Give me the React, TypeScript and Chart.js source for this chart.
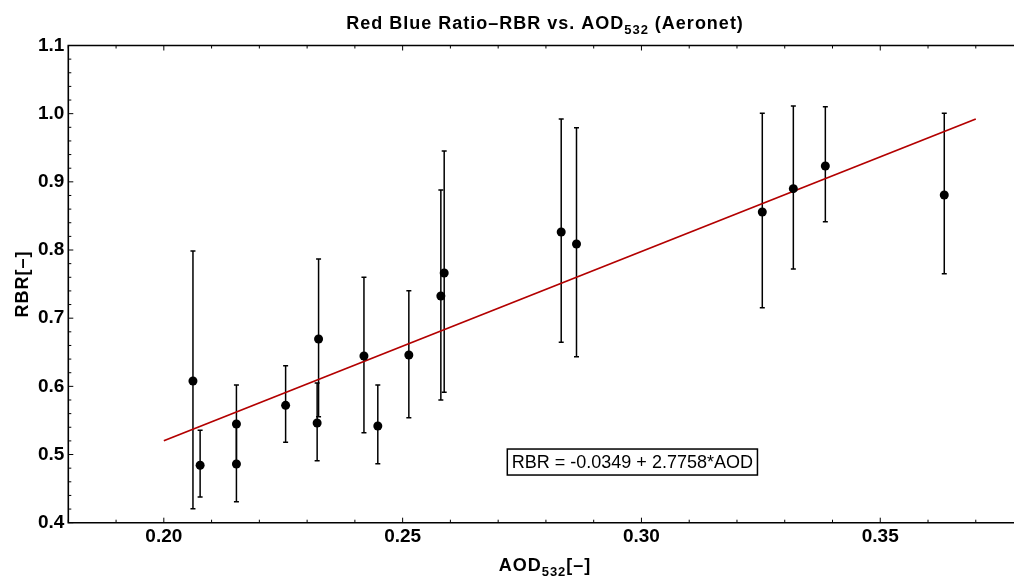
import { useEffect, useRef } from "react";
import { Chart, registerables } from "chart.js";

Chart.register(...registerables);

// ---- data ----
const aod = [0.2061, 0.2076, 0.2152, 0.2152, 0.2255, 0.2321, 0.2324, 0.2419, 0.2448, 0.2513, 0.258, 0.2587, 0.2832, 0.2864, 0.3253, 0.3318, 0.3385, 0.3634];
const rbr = [0.6079, 0.4842, 0.5448, 0.4861, 0.5722, 0.5463, 0.6695, 0.6445, 0.5419, 0.646, 0.7326, 0.7663, 0.8264, 0.8088, 0.8558, 0.89, 0.9233, 0.8807];
const rbrLow = [0.4205, 0.4377, 0.49, 0.4308, 0.5179, 0.491, 0.5555, 0.532, 0.4866, 0.554, 0.58, 0.5913, 0.6646, 0.6435, 0.7154, 0.7722, 0.8415, 0.7653];
const rbrHigh = [0.7986, 0.5355, 0.602, 0.54, 0.6303, 0.6049, 0.7868, 0.76, 0.602, 0.7403, 0.888, 0.9453, 0.9922, 0.9794, 1.0006, 1.0113, 1.0102, 1.0006];

const fitIntercept = -0.0349;
const fitSlope = 2.7758;
const fitRange = [0.2, 0.37];
const fitLabel = "RBR = -0.0349 + 2.7758*AOD";
const fitLabelAt = [0.2981, 0.489];

const xTickValues = [0.2, 0.25, 0.3, 0.35];
const xTickLabels = ["0.20", "0.25", "0.30", "0.35"];
const yTickValues = [0.4, 0.5, 0.6, 0.7, 0.8, 0.9, 1.0, 1.1];
const yTickLabels = ["0.4", "0.5", "0.6", "0.7", "0.8", "0.9", "1.0", "1.1"];
const xMinorStep = 0.01;
const yMinorStep = 0.02;

const FAM = '"Liberation Sans", Arial, Helvetica, sans-serif';

type Seg = { t: string; sub?: boolean };

function drawRich(ctx: CanvasRenderingContext2D, segs: Seg[], cx: number, baseY: number, size: number, bold: boolean, spacing: number) {
  const w = bold ? "bold " : "";
  const main = `${w}${size}px ${FAM}`;
  const sub = `${w}${Math.round(size * 0.7)}px ${FAM}`;
  (ctx as any).letterSpacing = `${spacing}px`;
  let total = 0;
  const widths = segs.map((s) => {
    ctx.font = s.sub ? sub : main;
    const m = ctx.measureText(s.t).width;
    total += m;
    return m;
  });
  let x = cx - total / 2;
  ctx.textAlign = "left";
  ctx.textBaseline = "alphabetic";
  segs.forEach((s, i) => {
    ctx.font = s.sub ? sub : main;
    ctx.fillText(s.t, x, baseY + (s.sub ? size * 0.28 : 0));
    x += widths[i];
  });
  (ctx as any).letterSpacing = "0px";
}

const decor = {
  id: "decor",
  beforeDatasetsDraw(chart: any) {
    const ctx = chart.ctx as CanvasRenderingContext2D;
    const xs = chart.scales.x;
    const ys = chart.scales.y;
    ctx.save();
    ctx.strokeStyle = "#000";
    ctx.lineWidth = 1.5;
    for (let i = 0; i < aod.length; i++) {
      const px = xs.getPixelForValue(aod[i]);
      const pl = ys.getPixelForValue(rbrLow[i]);
      const ph = ys.getPixelForValue(rbrHigh[i]);
      ctx.beginPath();
      ctx.moveTo(px, pl);
      ctx.lineTo(px, ph);
      ctx.moveTo(px - 2.5, pl);
      ctx.lineTo(px + 2.5, pl);
      ctx.moveTo(px - 2.5, ph);
      ctx.lineTo(px + 2.5, ph);
      ctx.stroke();
    }
    ctx.restore();
  },
  afterDraw(chart: any) {
    const ctx = chart.ctx as CanvasRenderingContext2D;
    const xs = chart.scales.x;
    const ys = chart.scales.y;
    const a = chart.chartArea;
    ctx.save();
    ctx.strokeStyle = "#000";
    // frame (left, top, bottom; right side lies beyond the picture)
    ctx.lineWidth = 1.6;
    ctx.beginPath();
    ctx.moveTo(a.right + 2, a.top);
    ctx.lineTo(a.left, a.top);
    ctx.lineTo(a.left, a.bottom);
    ctx.lineTo(a.right + 2, a.bottom);
    ctx.stroke();
    // inward ticks
    ctx.lineWidth = 1;
    ctx.beginPath();
    const xi0 = Math.ceil(xs.min / xMinorStep - 1e-6);
    const xi1 = Math.floor(xs.max / xMinorStep + 1e-6);
    for (let i = xi0; i <= xi1; i++) {
      const v = i * xMinorStep;
      const major = xTickValues.some((t) => Math.abs(t - v) < 1e-6);
      const len = major ? 5 : 3;
      const px = xs.getPixelForValue(v);
      ctx.moveTo(px, a.bottom);
      ctx.lineTo(px, a.bottom - len);
      ctx.moveTo(px, a.top);
      ctx.lineTo(px, a.top + len);
    }
    const yi0 = Math.ceil(ys.min / yMinorStep - 1e-6);
    const yi1 = Math.floor(ys.max / yMinorStep + 1e-6);
    for (let i = yi0; i <= yi1; i++) {
      const v = i * yMinorStep;
      const major = yTickValues.some((t) => Math.abs(t - v) < 1e-6);
      const len = major ? 5 : 3;
      const py = ys.getPixelForValue(v);
      ctx.moveTo(a.left, py);
      ctx.lineTo(a.left + len, py);
    }
    ctx.stroke();

    // fit label box
    const bx = xs.getPixelForValue(fitLabelAt[0]);
    const by = ys.getPixelForValue(fitLabelAt[1]);
    ctx.font = `18px ${FAM}`;
    const tw = ctx.measureText(fitLabel).width;
    const bw = tw + 9;
    const bh = 26;
    ctx.fillStyle = "#fff";
    ctx.fillRect(bx - bw / 2, by - bh / 2, bw, bh);
    ctx.lineWidth = 1.5;
    ctx.strokeRect(bx - bw / 2, by - bh / 2, bw, bh);
    ctx.fillStyle = "#000";
    ctx.textAlign = "center";
    ctx.textBaseline = "middle";
    ctx.fillText(fitLabel, bx, by + 1);

    // title
    ctx.fillStyle = "#000";
    drawRich(ctx, [{ t: "Red Blue Ratio\u2013RBR vs. AOD" }, { t: "532", sub: true }, { t: " (Aeronet)" }], 545, 29, 18, true, 1);
    // x axis title
    drawRich(ctx, [{ t: "AOD" }, { t: "532", sub: true }, { t: "[\u2013]" }], 545, 571, 18, true, 1);
    // y axis title
    ctx.save();
    ctx.translate(28, (a.top + a.bottom) / 2);
    ctx.rotate(-Math.PI / 2);
    drawRich(ctx, [{ t: "RBR[\u2013]" }], 0, 0, 18, true, 1);
    ctx.restore();

    ctx.restore();
  },
};

export default function App() {
  const ref = useRef<HTMLCanvasElement | null>(null);
  useEffect(() => {
    if (!ref.current) return;
    const fitData = fitRange.map((x) => ({ x, y: fitIntercept + fitSlope * x }));
    const pts = aod.map((x, i) => ({ x, y: rbr[i] }));
    const tickFont = { family: FAM, size: 19, weight: "bold" as const };
    const chart = new Chart(ref.current, {
      type: "scatter",
      data: {
        datasets: [
          {
            type: "line",
            data: fitData,
            borderColor: "#b30000",
            borderWidth: 1.8,
            pointRadius: 0,
            fill: false,
            order: 2,
          } as any,
          {
            type: "scatter",
            data: pts,
            backgroundColor: "#000",
            borderWidth: 0,
            pointRadius: 4.5,
            order: 1,
          },
        ],
      },
      options: {
        animation: false,
        responsive: false,
        maintainAspectRatio: false,
        layout: { autoPadding: false, padding: { top: 45.5, left: 0, right: 0, bottom: 0 } },
        plugins: { legend: { display: false }, tooltip: { enabled: false }, title: { display: false } },
        scales: {
          x: {
            type: "linear",
            bounds: "data",
            min: 0.18,
            max: 0.378,
            grid: { display: false, drawTicks: false },
            border: { display: false },
            ticks: {
              autoSkip: false,
              maxRotation: 0,
              padding: 3,
              color: "#000",
              font: tickFont,
              callback: (_v: any, i: number) => xTickLabels[i],
            },
            afterBuildTicks: (s: any) => {
              s.ticks = xTickValues.map((v) => ({ value: v }));
            },
            afterFit: (s: any) => {
              s.height = 55.3;
              s.paddingLeft = 0;
              s.paddingRight = 0;
            },
          },
          y: {
            type: "linear",
            bounds: "data",
            min: 0.4,
            max: 1.1,
            grid: { display: false, drawTicks: false },
            border: { display: false },
            ticks: {
              autoSkip: false,
              padding: 4,
              color: "#000",
              font: tickFont,
              callback: (_v: any, i: number) => yTickLabels[i],
            },
            afterBuildTicks: (s: any) => {
              s.ticks = yTickValues.map((v) => ({ value: v }));
            },
            afterFit: (s: any) => {
              s.width = 68.3;
              s.paddingTop = 0;
              s.paddingBottom = 0;
            },
          },
        },
      },
      plugins: [decor],
    });
    return () => chart.destroy();
  }, []);
  return (
    <div style={{ position: "fixed", left: 0, top: 0, width: 1014, height: 578, background: "#fff", overflow: "hidden" }}>
      <canvas ref={ref} width={1014} height={578} style={{ display: "block", width: 1014, height: 578 }} />
    </div>
  );
}
